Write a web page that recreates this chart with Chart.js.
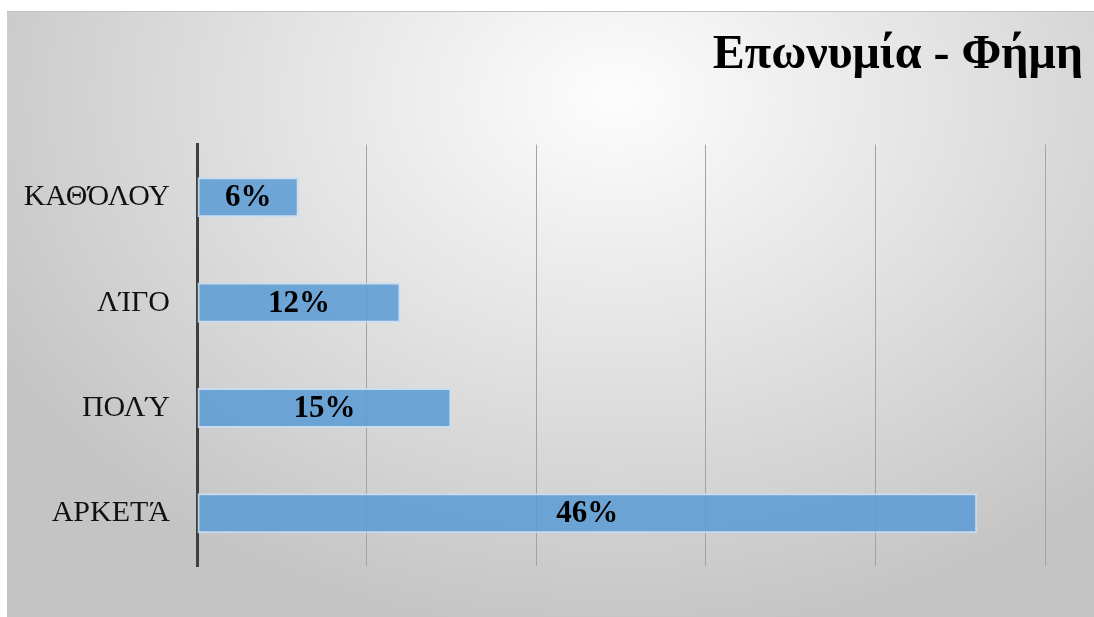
<!DOCTYPE html>
<html>
<head>
<meta charset="utf-8">
<script src="https://cdn.jsdelivr.net/npm/chart.js@4.4.1/dist/chart.umd.min.js"></script>
<style>
  html, body { margin: 0; padding: 0; background: #fff; }
  #wrap { position: relative; width: 1094px; height: 617px; overflow: hidden; }
  #panel {
    position: absolute; left: 7px; top: 11px; right: 0; bottom: 0;
    border-top: 1px solid #c4c4c4;
    background: radial-gradient(ellipse 65% 90% at 56% 14%, #fdfdfd 0%, #e4e4e4 45%, #c4c4c4 100%);
  }
  #myChart { position: absolute; left: 0; top: 0; }
</style>
</head>
<body>
<div id="wrap">
  <div id="panel"></div>
  <canvas id="myChart" width="1094" height="617"></canvas>
</div>
<script>
const chartTitle = 'Επωνυμία - Φήμη'
const categories = ['ΚΑΘΌΛΟΥ', 'ΛΊΓΟ', 'ΠΟΛΎ', 'ΑΡΚΕΤΆ']
const percents = [6, 12, 15, 46]
const axisMax = 50
const gridStep = 10

const serif = '"Liberation Serif", "Times New Roman", serif'

// value labels centred inside each bar
const barLabels = {
    id: 'barLabels',
    afterDatasetsDraw(chart) {
        const { ctx } = chart
        const meta = chart.getDatasetMeta(0)
        ctx.save()
        ctx.font = 'bold 31px ' + serif
        ctx.fillStyle = '#000'
        ctx.textAlign = 'center'
        ctx.textBaseline = 'middle'
        meta.data.forEach((bar, i) => {
            const { x, base, y } = bar.getProps(['x', 'base', 'y'], true)
            ctx.fillText(percents[i] + '%', (x + base) / 2, y + 1)
        })
        ctx.restore()
    }
}

const ctx = document.getElementById('myChart')

new Chart(ctx, {
    type: 'bar',
    data: {
        labels: categories,
        datasets: [{
            data: percents,
            backgroundColor: 'rgba(91,155,213,0.86)',
            borderColor: 'rgba(200,222,243,0.9)',
            borderWidth: 2,
            borderSkipped: false,
            barPercentage: 0.38,
            categoryPercentage: 1
        }]
    },
    options: {
        indexAxis: 'y',
        responsive: false,
        animation: false,
        layout: {
            padding: { left: 0, right: 11, top: 0, bottom: 51 }
        },
        scales: {
            x: {
                min: 0,
                max: axisMax,
                ticks: { display: false, stepSize: gridStep },
                grid: { color: '#a3a3a3', lineWidth: 1, drawTicks: false },
                border: { display: false },
                afterFit(scale) { scale.height = 0 }
            },
            y: {
                ticks: {
                    color: '#111',
                    font: { family: serif, size: 30 },
                    padding: 27
                },
                grid: { display: false, drawTicks: false },
                border: { display: true, color: '#3f3f3f', width: 3 },
                afterFit(scale) { scale.width = 197 }
            },
            // keeps the plot clear of the right-aligned title edge
            spacer: {
                type: 'linear',
                axis: 'y',
                position: 'right',
                display: true,
                ticks: { display: false },
                grid: { display: false, drawTicks: false },
                border: { display: false },
                afterFit(scale) { scale.width = 38 }
            }
        },
        plugins: {
            legend: { display: false },
            tooltip: { enabled: false },
            title: {
                display: true,
                text: chartTitle,
                align: 'end',
                color: '#000',
                font: { family: serif, size: 48, weight: 'bold', lineHeight: 1.2 },
                padding: { top: 27, bottom: 60 }
            }
        }
    },
    plugins: [barLabels]
})
</script>
</body>
</html>
